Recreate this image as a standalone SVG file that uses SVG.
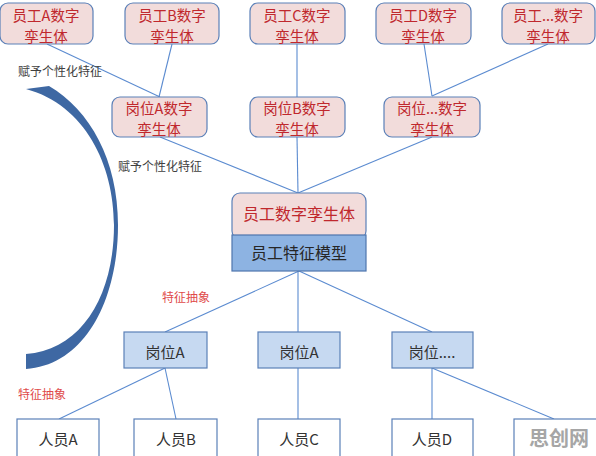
<svg xmlns="http://www.w3.org/2000/svg" width="596" height="456" viewBox="0 0 596 456">
<style>
  text { font-family: "Noto Sans CJK SC", "Noto Sans", sans-serif; text-anchor: middle; dominant-baseline: central; }
  .pink { fill: #f2dcdb; stroke: #5b80b8; stroke-width: 1.2; }
  .red { fill: #c0282d; font-size: 16px; }
  .red2 { fill: #c0282d; font-size: 14.5px; }
  .model { fill: #8db3e2; stroke: #4f75ad; stroke-width: 1.2; }
  .pos { fill: #c6d9f1; stroke: #5b80b8; stroke-width: 1.2; }
  .person { fill: #ffffff; stroke: #5b80b8; stroke-width: 1.2; }
  .dark { fill: #262626; font-size: 16px; }
  .gray { fill: #333333; font-size: 15px; }
  .lbl { fill: #404040; font-size: 12px; text-anchor: start; }
  .lblr { fill: #e04a4a; font-size: 12px; text-anchor: start; }
  .conn line { stroke: #5b8bd0; stroke-width: 1.1; }
</style>

<g id="connectors" class="conn">
  <line x1="47" y1="44" x2="160" y2="97"/>
  <line x1="172" y1="44" x2="159" y2="97"/>
  <line x1="297" y1="44" x2="297" y2="97"/>
  <line x1="424" y1="44" x2="432" y2="96"/>
  <line x1="548" y1="44" x2="432" y2="96"/>
  <line x1="160" y1="137" x2="298" y2="193"/>
  <line x1="297" y1="137" x2="298" y2="193"/>
  <line x1="432" y1="137" x2="298" y2="193"/>
  <line x1="299" y1="271" x2="165" y2="332"/>
  <line x1="298" y1="271" x2="298" y2="332"/>
  <line x1="299" y1="271" x2="432" y2="332"/>
  <line x1="165" y1="368" x2="59" y2="419"/>
  <line x1="165" y1="368" x2="176" y2="419"/>
  <line x1="298" y1="368" x2="298" y2="419"/>
  <line x1="432" y1="368" x2="432" y2="419"/>
  <line x1="432" y1="368" x2="554" y2="419"/>
</g>

<g id="arc">
  <path d="M26,89 L49,86 C90,110 118,160 118,225 C118,300 85,365 26,369 L26,354 C82,350 114,295 114,225 C114,165 85,105 26,89 Z" fill="#3e68a3"/>
</g>

<g id="emp-a"><rect class="pink" x="0" y="3" width="93" height="41" rx="8"/><text class="red2" x="46" y="14">员工A数字</text><text class="red2" x="46" y="35">孪生体</text></g>
<g id="emp-b"><rect class="pink" x="125" y="3" width="94" height="41" rx="8"/><text class="red2" x="172" y="14">员工B数字</text><text class="red2" x="172" y="35">孪生体</text></g>
<g id="emp-c"><rect class="pink" x="250" y="3" width="95" height="41" rx="8"/><text class="red2" x="297" y="14">员工C数字</text><text class="red2" x="297" y="35">孪生体</text></g>
<g id="emp-d"><rect class="pink" x="376" y="3" width="95" height="41" rx="8"/><text class="red2" x="423" y="14">员工D数字</text><text class="red2" x="423" y="35">孪生体</text></g>
<g id="emp-etc"><rect class="pink" x="502" y="3" width="93" height="41" rx="8"/><text class="red2" x="548" y="14">员工...数字</text><text class="red2" x="548" y="35">孪生体</text></g>

<g id="pos-a-twin"><rect class="pink" x="112" y="97" width="95" height="40" rx="8"/><text class="red2" x="159" y="107">岗位A数字</text><text class="red2" x="159" y="128">孪生体</text></g>
<g id="pos-b-twin"><rect class="pink" x="250" y="97" width="95" height="40" rx="8"/><text class="red2" x="297" y="107">岗位B数字</text><text class="red2" x="297" y="128">孪生体</text></g>
<g id="pos-etc-twin"><rect class="pink" x="384" y="97" width="96" height="40" rx="8"/><text class="red2" x="432" y="107">岗位...数字</text><text class="red2" x="432" y="128">孪生体</text></g>

<g id="emp-twin"><rect class="pink" x="232" y="193" width="134" height="46" rx="8"/><text class="red" x="299" y="213">员工数字孪生体</text></g>
<g id="emp-model"><rect class="model" x="232" y="235" width="134" height="36"/><text class="dark" x="299" y="252">员工特征模型</text></g>

<g id="pos-a"><rect class="pos" x="124" y="332" width="83" height="36"/><text class="gray" x="165" y="351">岗位A</text></g>
<g id="pos-a2"><rect class="pos" x="258" y="332" width="82" height="36"/><text class="gray" x="299" y="351">岗位A</text></g>
<g id="pos-etc"><rect class="pos" x="392" y="332" width="81" height="36"/><text class="gray" x="432" y="351">岗位....</text></g>

<g id="person-a"><rect class="person" x="17" y="419" width="82" height="40"/><text class="gray" x="58" y="438">人员A</text></g>
<g id="person-b"><rect class="person" x="134" y="419" width="83" height="40"/><text class="gray" x="176" y="438">人员B</text></g>
<g id="person-c"><rect class="person" x="258" y="419" width="82" height="40"/><text class="gray" x="299" y="438">人员C</text></g>
<g id="person-d"><rect class="person" x="392" y="419" width="81" height="40"/><text class="gray" x="432" y="438">人员D</text></g>
<g id="person-etc"><rect class="person" x="514" y="419" width="84" height="40"/><text x="559" y="437" style="font-size:20px;font-weight:bold;fill:#a6a6a6">思创网</text></g>

<g id="labels">
  <text class="lbl" x="18" y="70">赋予个性化特征</text>
  <text class="lbl" x="118" y="165">赋予个性化特征</text>
  <text class="lblr" x="162" y="296">特征抽象</text>
  <text class="lblr" x="18" y="393">特征抽象</text>
</g>
</svg>
